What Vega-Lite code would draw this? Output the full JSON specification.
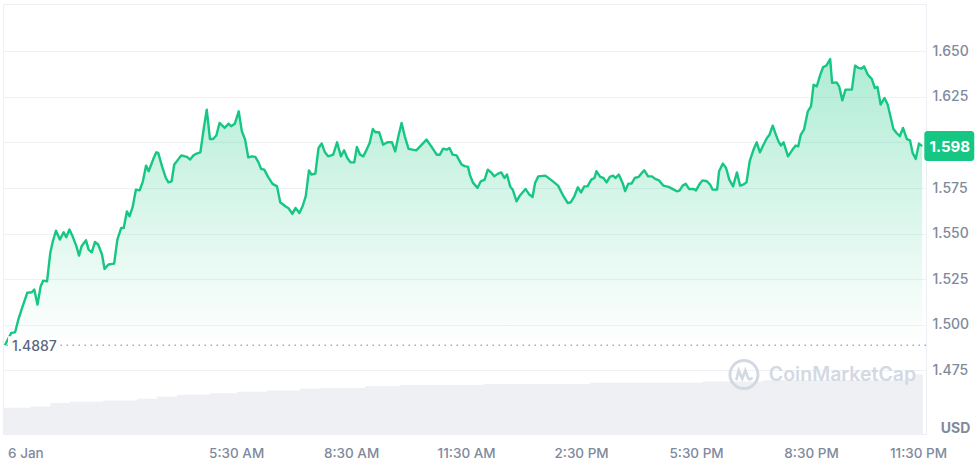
{
  "$schema": "https://vega.github.io/schema/vega-lite/v6.json",
  "width": 923,
  "height": 430,
  "autosize": "none",
  "padding": {"left": 3, "top": 4, "right": 54, "bottom": 33},
  "background": "white",
  "config": {
    "view": {"stroke": "#eceff3", "strokeWidth": 1},
    "font": "Inter"
  },
  "datasets": {
    "price": [
      {"t": "2024-01-05T23:28:00Z", "p": 1.4887},
      {"t": "2024-01-05T23:38:00Z", "p": 1.4955},
      {"t": "2024-01-05T23:44:00Z", "p": 1.4958},
      {"t": "2024-01-05T23:49:00Z", "p": 1.5028},
      {"t": "2024-01-05T23:54:00Z", "p": 1.5083},
      {"t": "2024-01-06T00:03:00Z", "p": 1.5175},
      {"t": "2024-01-06T00:10:00Z", "p": 1.5178},
      {"t": "2024-01-06T00:14:00Z", "p": 1.5193},
      {"t": "2024-01-06T00:19:00Z", "p": 1.5110},
      {"t": "2024-01-06T00:24:00Z", "p": 1.5211},
      {"t": "2024-01-06T00:28:00Z", "p": 1.5242},
      {"t": "2024-01-06T00:34:00Z", "p": 1.5238},
      {"t": "2024-01-06T00:39:00Z", "p": 1.5394},
      {"t": "2024-01-06T00:43:00Z", "p": 1.5458},
      {"t": "2024-01-06T00:48:00Z", "p": 1.5516},
      {"t": "2024-01-06T00:54:00Z", "p": 1.5467},
      {"t": "2024-01-06T01:00:00Z", "p": 1.5507},
      {"t": "2024-01-06T01:04:00Z", "p": 1.5480},
      {"t": "2024-01-06T01:09:00Z", "p": 1.5522},
      {"t": "2024-01-06T01:14:00Z", "p": 1.5485},
      {"t": "2024-01-06T01:20:00Z", "p": 1.5430},
      {"t": "2024-01-06T01:24:00Z", "p": 1.5379},
      {"t": "2024-01-06T01:28:00Z", "p": 1.5430},
      {"t": "2024-01-06T01:35:00Z", "p": 1.5463},
      {"t": "2024-01-06T01:39:00Z", "p": 1.5412},
      {"t": "2024-01-06T01:44:00Z", "p": 1.5397},
      {"t": "2024-01-06T01:49:00Z", "p": 1.5454},
      {"t": "2024-01-06T01:54:00Z", "p": 1.5440},
      {"t": "2024-01-06T02:00:00Z", "p": 1.5385},
      {"t": "2024-01-06T02:04:00Z", "p": 1.5306},
      {"t": "2024-01-06T02:10:00Z", "p": 1.5330},
      {"t": "2024-01-06T02:19:00Z", "p": 1.5335},
      {"t": "2024-01-06T02:24:00Z", "p": 1.5467},
      {"t": "2024-01-06T02:30:00Z", "p": 1.5531},
      {"t": "2024-01-06T02:34:00Z", "p": 1.5531},
      {"t": "2024-01-06T02:39:00Z", "p": 1.5622},
      {"t": "2024-01-06T02:43:00Z", "p": 1.5595},
      {"t": "2024-01-06T02:48:00Z", "p": 1.5646},
      {"t": "2024-01-06T02:53:00Z", "p": 1.5741},
      {"t": "2024-01-06T02:59:00Z", "p": 1.5737},
      {"t": "2024-01-06T03:04:00Z", "p": 1.5787},
      {"t": "2024-01-06T03:09:00Z", "p": 1.5873},
      {"t": "2024-01-06T03:13:00Z", "p": 1.5842},
      {"t": "2024-01-06T03:20:00Z", "p": 1.5906},
      {"t": "2024-01-06T03:25:00Z", "p": 1.5946},
      {"t": "2024-01-06T03:28:00Z", "p": 1.5943},
      {"t": "2024-01-06T03:34:00Z", "p": 1.5869},
      {"t": "2024-01-06T03:40:00Z", "p": 1.5805},
      {"t": "2024-01-06T03:44:00Z", "p": 1.5781},
      {"t": "2024-01-06T03:49:00Z", "p": 1.5787},
      {"t": "2024-01-06T03:53:00Z", "p": 1.5878},
      {"t": "2024-01-06T03:59:00Z", "p": 1.5906},
      {"t": "2024-01-06T04:04:00Z", "p": 1.5929},
      {"t": "2024-01-06T04:13:00Z", "p": 1.5921},
      {"t": "2024-01-06T04:18:00Z", "p": 1.5906},
      {"t": "2024-01-06T04:23:00Z", "p": 1.5928},
      {"t": "2024-01-06T04:28:00Z", "p": 1.5939},
      {"t": "2024-01-06T04:34:00Z", "p": 1.5946},
      {"t": "2024-01-06T04:39:00Z", "p": 1.6070},
      {"t": "2024-01-06T04:44:00Z", "p": 1.6180},
      {"t": "2024-01-06T04:49:00Z", "p": 1.6019},
      {"t": "2024-01-06T04:54:00Z", "p": 1.6019},
      {"t": "2024-01-06T04:59:00Z", "p": 1.6038},
      {"t": "2024-01-06T05:04:00Z", "p": 1.6107},
      {"t": "2024-01-06T05:12:00Z", "p": 1.6080},
      {"t": "2024-01-06T05:18:00Z", "p": 1.6103},
      {"t": "2024-01-06T05:22:00Z", "p": 1.6089},
      {"t": "2024-01-06T05:28:00Z", "p": 1.6103},
      {"t": "2024-01-06T05:34:00Z", "p": 1.6171},
      {"t": "2024-01-06T05:39:00Z", "p": 1.6061},
      {"t": "2024-01-06T05:44:00Z", "p": 1.6016},
      {"t": "2024-01-06T05:49:00Z", "p": 1.5918},
      {"t": "2024-01-06T05:55:00Z", "p": 1.5924},
      {"t": "2024-01-06T06:00:00Z", "p": 1.5921},
      {"t": "2024-01-06T06:05:00Z", "p": 1.5891},
      {"t": "2024-01-06T06:09:00Z", "p": 1.5855},
      {"t": "2024-01-06T06:14:00Z", "p": 1.5851},
      {"t": "2024-01-06T06:20:00Z", "p": 1.5811},
      {"t": "2024-01-06T06:27:00Z", "p": 1.5773},
      {"t": "2024-01-06T06:34:00Z", "p": 1.5759},
      {"t": "2024-01-06T06:39:00Z", "p": 1.5672},
      {"t": "2024-01-06T06:47:00Z", "p": 1.5650},
      {"t": "2024-01-06T06:52:00Z", "p": 1.5639},
      {"t": "2024-01-06T06:58:00Z", "p": 1.5608},
      {"t": "2024-01-06T07:03:00Z", "p": 1.5641},
      {"t": "2024-01-06T07:09:00Z", "p": 1.5613},
      {"t": "2024-01-06T07:14:00Z", "p": 1.5650},
      {"t": "2024-01-06T07:19:00Z", "p": 1.5705},
      {"t": "2024-01-06T07:24:00Z", "p": 1.5847},
      {"t": "2024-01-06T07:28:00Z", "p": 1.5824},
      {"t": "2024-01-06T07:34:00Z", "p": 1.5829},
      {"t": "2024-01-06T07:39:00Z", "p": 1.5970},
      {"t": "2024-01-06T07:44:00Z", "p": 1.5994},
      {"t": "2024-01-06T07:49:00Z", "p": 1.5946},
      {"t": "2024-01-06T07:54:00Z", "p": 1.5924},
      {"t": "2024-01-06T08:02:00Z", "p": 1.5933},
      {"t": "2024-01-06T08:08:00Z", "p": 1.6001},
      {"t": "2024-01-06T08:14:00Z", "p": 1.5924},
      {"t": "2024-01-06T08:19:00Z", "p": 1.5957},
      {"t": "2024-01-06T08:24:00Z", "p": 1.5915},
      {"t": "2024-01-06T08:29:00Z", "p": 1.5891},
      {"t": "2024-01-06T08:35:00Z", "p": 1.5891},
      {"t": "2024-01-06T08:39:00Z", "p": 1.5976},
      {"t": "2024-01-06T08:44:00Z", "p": 1.5933},
      {"t": "2024-01-06T08:49:00Z", "p": 1.5924},
      {"t": "2024-01-06T08:53:00Z", "p": 1.5951},
      {"t": "2024-01-06T08:59:00Z", "p": 1.5997},
      {"t": "2024-01-06T09:04:00Z", "p": 1.6074},
      {"t": "2024-01-06T09:08:00Z", "p": 1.6056},
      {"t": "2024-01-06T09:14:00Z", "p": 1.6056},
      {"t": "2024-01-06T09:20:00Z", "p": 1.5988},
      {"t": "2024-01-06T09:27:00Z", "p": 1.6001},
      {"t": "2024-01-06T09:34:00Z", "p": 1.6001},
      {"t": "2024-01-06T09:39:00Z", "p": 1.5951},
      {"t": "2024-01-06T09:44:00Z", "p": 1.6034},
      {"t": "2024-01-06T09:49:00Z", "p": 1.6107},
      {"t": "2024-01-06T09:54:00Z", "p": 1.6034},
      {"t": "2024-01-06T10:00:00Z", "p": 1.5965},
      {"t": "2024-01-06T10:12:00Z", "p": 1.5957},
      {"t": "2024-01-06T10:18:00Z", "p": 1.5979},
      {"t": "2024-01-06T10:28:00Z", "p": 1.6016},
      {"t": "2024-01-06T10:36:00Z", "p": 1.5976},
      {"t": "2024-01-06T10:44:00Z", "p": 1.5933},
      {"t": "2024-01-06T10:49:00Z", "p": 1.5933},
      {"t": "2024-01-06T10:54:00Z", "p": 1.5966},
      {"t": "2024-01-06T11:00:00Z", "p": 1.5961},
      {"t": "2024-01-06T11:04:00Z", "p": 1.5970},
      {"t": "2024-01-06T11:09:00Z", "p": 1.5933},
      {"t": "2024-01-06T11:15:00Z", "p": 1.5929},
      {"t": "2024-01-06T11:23:00Z", "p": 1.5878},
      {"t": "2024-01-06T11:28:00Z", "p": 1.5870},
      {"t": "2024-01-06T11:33:00Z", "p": 1.5866},
      {"t": "2024-01-06T11:36:00Z", "p": 1.5821},
      {"t": "2024-01-06T11:41:00Z", "p": 1.5778},
      {"t": "2024-01-06T11:48:00Z", "p": 1.5751},
      {"t": "2024-01-06T11:53:00Z", "p": 1.5787},
      {"t": "2024-01-06T11:59:00Z", "p": 1.5796},
      {"t": "2024-01-06T12:04:00Z", "p": 1.5851},
      {"t": "2024-01-06T12:09:00Z", "p": 1.5836},
      {"t": "2024-01-06T12:14:00Z", "p": 1.5814},
      {"t": "2024-01-06T12:20:00Z", "p": 1.5829},
      {"t": "2024-01-06T12:25:00Z", "p": 1.5836},
      {"t": "2024-01-06T12:30:00Z", "p": 1.5805},
      {"t": "2024-01-06T12:34:00Z", "p": 1.5824},
      {"t": "2024-01-06T12:39:00Z", "p": 1.5759},
      {"t": "2024-01-06T12:43:00Z", "p": 1.5741},
      {"t": "2024-01-06T12:49:00Z", "p": 1.5677},
      {"t": "2024-01-06T12:54:00Z", "p": 1.5708},
      {"t": "2024-01-06T13:03:00Z", "p": 1.5745},
      {"t": "2024-01-06T13:09:00Z", "p": 1.5714},
      {"t": "2024-01-06T13:14:00Z", "p": 1.5701},
      {"t": "2024-01-06T13:18:00Z", "p": 1.5778},
      {"t": "2024-01-06T13:23:00Z", "p": 1.5814},
      {"t": "2024-01-06T13:34:00Z", "p": 1.5818},
      {"t": "2024-01-06T13:44:00Z", "p": 1.5792},
      {"t": "2024-01-06T13:54:00Z", "p": 1.5763},
      {"t": "2024-01-06T14:02:00Z", "p": 1.5708},
      {"t": "2024-01-06T14:09:00Z", "p": 1.5668},
      {"t": "2024-01-06T14:14:00Z", "p": 1.5672},
      {"t": "2024-01-06T14:19:00Z", "p": 1.5701},
      {"t": "2024-01-06T14:25:00Z", "p": 1.5754},
      {"t": "2024-01-06T14:30:00Z", "p": 1.5726},
      {"t": "2024-01-06T14:35:00Z", "p": 1.5759},
      {"t": "2024-01-06T14:40:00Z", "p": 1.5759},
      {"t": "2024-01-06T14:46:00Z", "p": 1.5796},
      {"t": "2024-01-06T14:51:00Z", "p": 1.5805},
      {"t": "2024-01-06T14:54:00Z", "p": 1.5842},
      {"t": "2024-01-06T15:00:00Z", "p": 1.5811},
      {"t": "2024-01-06T15:05:00Z", "p": 1.5805},
      {"t": "2024-01-06T15:10:00Z", "p": 1.5781},
      {"t": "2024-01-06T15:15:00Z", "p": 1.5811},
      {"t": "2024-01-06T15:20:00Z", "p": 1.5818},
      {"t": "2024-01-06T15:24:00Z", "p": 1.5805},
      {"t": "2024-01-06T15:29:00Z", "p": 1.5824},
      {"t": "2024-01-06T15:35:00Z", "p": 1.5778},
      {"t": "2024-01-06T15:39:00Z", "p": 1.5733},
      {"t": "2024-01-06T15:44:00Z", "p": 1.5774},
      {"t": "2024-01-06T15:49:00Z", "p": 1.5774},
      {"t": "2024-01-06T15:54:00Z", "p": 1.5805},
      {"t": "2024-01-06T16:00:00Z", "p": 1.5811},
      {"t": "2024-01-06T16:05:00Z", "p": 1.5833},
      {"t": "2024-01-06T16:09:00Z", "p": 1.5847},
      {"t": "2024-01-06T16:15:00Z", "p": 1.5814},
      {"t": "2024-01-06T16:21:00Z", "p": 1.5814},
      {"t": "2024-01-06T16:26:00Z", "p": 1.5800},
      {"t": "2024-01-06T16:32:00Z", "p": 1.5792},
      {"t": "2024-01-06T16:39:00Z", "p": 1.5763},
      {"t": "2024-01-06T16:47:00Z", "p": 1.5756},
      {"t": "2024-01-06T16:53:00Z", "p": 1.5745},
      {"t": "2024-01-06T17:00:00Z", "p": 1.5732},
      {"t": "2024-01-06T17:04:00Z", "p": 1.5736},
      {"t": "2024-01-06T17:09:00Z", "p": 1.5763},
      {"t": "2024-01-06T17:14:00Z", "p": 1.5773},
      {"t": "2024-01-06T17:19:00Z", "p": 1.5745},
      {"t": "2024-01-06T17:26:00Z", "p": 1.5745},
      {"t": "2024-01-06T17:30:00Z", "p": 1.5737},
      {"t": "2024-01-06T17:35:00Z", "p": 1.5769},
      {"t": "2024-01-06T17:40:00Z", "p": 1.5792},
      {"t": "2024-01-06T17:47:00Z", "p": 1.5787},
      {"t": "2024-01-06T17:52:00Z", "p": 1.5769},
      {"t": "2024-01-06T17:56:00Z", "p": 1.5741},
      {"t": "2024-01-06T18:03:00Z", "p": 1.5741},
      {"t": "2024-01-06T18:06:00Z", "p": 1.5842},
      {"t": "2024-01-06T18:12:00Z", "p": 1.5884},
      {"t": "2024-01-06T18:17:00Z", "p": 1.5860},
      {"t": "2024-01-06T18:22:00Z", "p": 1.5796},
      {"t": "2024-01-06T18:28:00Z", "p": 1.5759},
      {"t": "2024-01-06T18:34:00Z", "p": 1.5836},
      {"t": "2024-01-06T18:39:00Z", "p": 1.5763},
      {"t": "2024-01-06T18:44:00Z", "p": 1.5769},
      {"t": "2024-01-06T18:49:00Z", "p": 1.5781},
      {"t": "2024-01-06T18:54:00Z", "p": 1.5897},
      {"t": "2024-01-06T19:00:00Z", "p": 1.5961},
      {"t": "2024-01-06T19:05:00Z", "p": 1.6001},
      {"t": "2024-01-06T19:10:00Z", "p": 1.5946},
      {"t": "2024-01-06T19:15:00Z", "p": 1.5983},
      {"t": "2024-01-06T19:21:00Z", "p": 1.6025},
      {"t": "2024-01-06T19:25:00Z", "p": 1.6043},
      {"t": "2024-01-06T19:30:00Z", "p": 1.6092},
      {"t": "2024-01-06T19:35:00Z", "p": 1.6043},
      {"t": "2024-01-06T19:39:00Z", "p": 1.6006},
      {"t": "2024-01-06T19:43:00Z", "p": 1.5983},
      {"t": "2024-01-06T19:47:00Z", "p": 1.6001},
      {"t": "2024-01-06T19:54:00Z", "p": 1.5924},
      {"t": "2024-01-06T20:01:00Z", "p": 1.5961},
      {"t": "2024-01-06T20:06:00Z", "p": 1.5983},
      {"t": "2024-01-06T20:10:00Z", "p": 1.5979},
      {"t": "2024-01-06T20:14:00Z", "p": 1.6043},
      {"t": "2024-01-06T20:19:00Z", "p": 1.6070},
      {"t": "2024-01-06T20:25:00Z", "p": 1.6171},
      {"t": "2024-01-06T20:30:00Z", "p": 1.6198},
      {"t": "2024-01-06T20:34:00Z", "p": 1.6317},
      {"t": "2024-01-06T20:39:00Z", "p": 1.6308},
      {"t": "2024-01-06T20:44:00Z", "p": 1.6367},
      {"t": "2024-01-06T20:49:00Z", "p": 1.6414},
      {"t": "2024-01-06T20:54:00Z", "p": 1.6422},
      {"t": "2024-01-06T21:00:00Z", "p": 1.6458},
      {"t": "2024-01-06T21:03:00Z", "p": 1.6327},
      {"t": "2024-01-06T21:10:00Z", "p": 1.6330},
      {"t": "2024-01-06T21:14:00Z", "p": 1.6308},
      {"t": "2024-01-06T21:19:00Z", "p": 1.6231},
      {"t": "2024-01-06T21:24:00Z", "p": 1.6290},
      {"t": "2024-01-06T21:34:00Z", "p": 1.6290},
      {"t": "2024-01-06T21:39:00Z", "p": 1.6422},
      {"t": "2024-01-06T21:44:00Z", "p": 1.6409},
      {"t": "2024-01-06T21:49:00Z", "p": 1.6405},
      {"t": "2024-01-06T21:53:00Z", "p": 1.6418},
      {"t": "2024-01-06T21:59:00Z", "p": 1.6372},
      {"t": "2024-01-06T22:05:00Z", "p": 1.6349},
      {"t": "2024-01-06T22:10:00Z", "p": 1.6299},
      {"t": "2024-01-06T22:14:00Z", "p": 1.6305},
      {"t": "2024-01-06T22:19:00Z", "p": 1.6208},
      {"t": "2024-01-06T22:25:00Z", "p": 1.6244},
      {"t": "2024-01-06T22:30:00Z", "p": 1.6208},
      {"t": "2024-01-06T22:39:00Z", "p": 1.6074},
      {"t": "2024-01-06T22:44:00Z", "p": 1.6052},
      {"t": "2024-01-06T22:49:00Z", "p": 1.6034},
      {"t": "2024-01-06T22:54:00Z", "p": 1.6080},
      {"t": "2024-01-06T23:00:00Z", "p": 1.6019},
      {"t": "2024-01-06T23:05:00Z", "p": 1.6012},
      {"t": "2024-01-06T23:09:00Z", "p": 1.5943},
      {"t": "2024-01-06T23:14:00Z", "p": 1.5910},
      {"t": "2024-01-06T23:19:00Z", "p": 1.5994},
      {"t": "2024-01-06T23:24:00Z", "p": 1.5980}
    ],
    "volume": [
      {"t": "2024-01-05T23:25:00Z", "v": 61},
      {"t": "2024-01-06T00:08:00Z", "v": 64},
      {"t": "2024-01-06T00:39:00Z", "v": 72},
      {"t": "2024-01-06T01:10:00Z", "v": 75},
      {"t": "2024-01-06T02:02:00Z", "v": 78},
      {"t": "2024-01-06T02:55:00Z", "v": 82},
      {"t": "2024-01-06T03:26:00Z", "v": 87},
      {"t": "2024-01-06T03:58:00Z", "v": 91},
      {"t": "2024-01-06T04:49:00Z", "v": 95},
      {"t": "2024-01-06T05:31:00Z", "v": 98},
      {"t": "2024-01-06T06:18:00Z", "v": 101},
      {"t": "2024-01-06T07:10:00Z", "v": 106},
      {"t": "2024-01-06T07:41:00Z", "v": 107},
      {"t": "2024-01-06T08:52:00Z", "v": 111},
      {"t": "2024-01-06T09:47:00Z", "v": 114},
      {"t": "2024-01-06T11:57:00Z", "v": 116},
      {"t": "2024-01-06T14:44:00Z", "v": 119},
      {"t": "2024-01-06T17:41:00Z", "v": 122},
      {"t": "2024-01-06T19:15:00Z", "v": 125},
      {"t": "2024-01-06T23:10:00Z", "v": 139},
      {"t": "2024-01-06T23:25:00Z", "v": 139}
    ]
  },
  "layer": [
    {
      "data": {"name": "volume"},
      "mark": {"type": "area", "interpolate": "step-after", "color": "#eef0f4"},
      "encoding": {
        "x": {
          "field": "t", "type": "temporal", "title": null,
          "scale": {"type": "utc", "domain": [
            {"year": 2024, "month": 1, "date": 5, "hours": 23, "minutes": 25, "utc": true},
            {"year": 2024, "month": 1, "date": 6, "hours": 23, "minutes": 30, "utc": true}
          ]},
          "axis": {
            "values": [
              {"year": 2024, "month": 1, "date": 6, "hours": 0, "minutes": 0, "utc": true},
              {"year": 2024, "month": 1, "date": 6, "hours": 5, "minutes": 30, "utc": true},
              {"year": 2024, "month": 1, "date": 6, "hours": 8, "minutes": 30, "utc": true},
              {"year": 2024, "month": 1, "date": 6, "hours": 11, "minutes": 30, "utc": true},
              {"year": 2024, "month": 1, "date": 6, "hours": 14, "minutes": 30, "utc": true},
              {"year": 2024, "month": 1, "date": 6, "hours": 17, "minutes": 30, "utc": true},
              {"year": 2024, "month": 1, "date": 6, "hours": 20, "minutes": 30, "utc": true},
              {"year": 2024, "month": 1, "date": 6, "hours": 23, "minutes": 30, "utc": true}
            ],
            "labelExpr": "utchours(datum.value) == 0 && utcminutes(datum.value) == 0 ? utcFormat(datum.value, '%-d %b') : utcFormat(datum.value, '%-I:%M %p')",
            "ticks": false, "tickSize": 0, "domain": false, "grid": false,
            "labelPadding": 12, "labelFontSize": 13.5, "labelColor": "#808a9d",
            "labelFont": "Inter", "labelFontWeight": 500,
            "labelOverlap": false, "labelFlush": false, "labelBound": false,
            "labelOffset": {"condition": {"test": "utchours(datum.value) == 23", "value": -8}, "value": 0}
          }
        },
        "y": {
          "field": "v", "type": "quantitative",
          "scale": {"domain": [0, 1000], "nice": false},
          "axis": null
        }
      }
    },
    {
      "layer": [
        {
          "data": {"name": "price"},
          "mark": {
            "type": "area",
            "fill": {
              "x1": 0, "y1": 0, "x2": 0, "y2": 1, "gradient": "linear",
              "stops": [
                {"offset": 0, "color": "rgba(22,199,132,0.34)"},
                {"offset": 1, "color": "rgba(22,199,132,0.0)"}
              ]
            }
          },
          "encoding": {
            "x": {"field": "t", "type": "temporal", "title": null},
            "y": {
              "field": "p", "type": "quantitative",
              "scale": {"domain": [1.44, 1.676], "nice": false, "zero": false},
              "axis": {
                "orient": "right",
                "values": [1.475, 1.5, 1.525, 1.55, 1.575, 1.6, 1.625, 1.65],
                "labelExpr": "abs(datum.value - 1.6) < 0.001 ? '' : format(datum.value, '.3f')",
                "ticks": false, "tickSize": 0, "domain": false,
                "grid": true, "gridColor": "#eff2f5", "gridWidth": 1,
                "labelPadding": 6, "labelFontSize": 14, "labelFont": "Inter",
                "labelFontWeight": 500, "labelColor": "#808a9d",
                "title": "USD", "titleAngle": 0, "titleX": 29, "titleY": 424.5,
                "titleAlign": "center", "titleBaseline": "middle",
                "titleFont": "Inter", "titleFontSize": 14, "titleFontWeight": "bold",
                "titleColor": "#808a9d"
              }
            },
            "y2": {"datum": 1.4887}
          }
        },
        {
          "data": {"values": [{}]},
          "mark": {"type": "rule", "color": "#a3abbb", "strokeDash": [1.5, 4.5], "strokeWidth": 1.3},
          "encoding": {"y": {"datum": 1.4887}}
        },
        {
          "data": {"name": "price"},
          "mark": {"type": "line", "color": "#16c784", "strokeWidth": 2.4, "interpolate": "linear", "strokeJoin": "round"},
          "encoding": {
            "x": {"field": "t", "type": "temporal", "title": null},
            "y": {"field": "p", "type": "quantitative"}
          }
        },
        {
          "data": {"values": [{}]},
          "mark": {
            "type": "point", "filled": true, "fill": "white", "opacity": 1, "size": 400,
            "shape": "M0.5,-0.9H5.6V0.9H0.5Z"
          },
          "encoding": {
            "x": {"datum": {"year": 2024, "month": 1, "date": 5, "hours": 23, "minutes": 25, "utc": true}, "type": "temporal"},
            "y": {"datum": 1.4887}
          }
        },
        {
          "data": {"values": [{}]},
          "mark": {
            "type": "text", "align": "left", "baseline": "middle", "dx": 9, "dy": 2,
            "font": "Inter", "fontSize": 14, "fontWeight": 500, "color": "#58667e",
            "text": "1.4887"
          },
          "encoding": {
            "x": {"datum": {"year": 2024, "month": 1, "date": 5, "hours": 23, "minutes": 25, "utc": true}, "type": "temporal"},
            "y": {"datum": 1.4887}
          }
        },
        {
          "data": {"values": [{}]},
          "mark": {
            "type": "point", "filled": false, "stroke": "#d3d9e3", "strokeWidth": 3,
            "opacity": 1, "size": 784, "shape": "circle"
          },
          "encoding": {
            "x": {"datum": {"year": 2024, "month": 1, "date": 6, "hours": 18, "minutes": 45, "utc": true}, "type": "temporal"},
            "y": {"datum": 1.4726}
          }
        },
        {
          "data": {"values": [{}]},
          "mark": {
            "type": "point", "filled": false, "stroke": "#d3d9e3", "strokeWidth": 2.6,
            "opacity": 1, "size": 784,
            "shape": "M-0.55,0.4L-0.38,-0.3L-0.12,0.3L0.1,-0.3L0.3,0.25Q0.45,0.45 0.6,0.2"
          },
          "encoding": {
            "x": {"datum": {"year": 2024, "month": 1, "date": 6, "hours": 18, "minutes": 45, "utc": true}, "type": "temporal"},
            "y": {"datum": 1.4726}
          }
        },
        {
          "data": {"values": [{}]},
          "mark": {
            "type": "text", "align": "left", "baseline": "middle",
            "font": "Inter", "fontSize": 19.5, "fontWeight": 600, "color": "#d3d9e3",
            "text": "CoinMarketCap"
          },
          "encoding": {
            "x": {"datum": {"year": 2024, "month": 1, "date": 6, "hours": 19, "minutes": 24, "utc": true}, "type": "temporal"},
            "y": {"datum": 1.4726}
          }
        },
        {
          "data": {"values": [{}]},
          "mark": {
            "type": "point", "filled": true, "fill": "#16c784", "opacity": 1, "size": 900,
            "shape": "M0.3,-1H3.23A0.2,0.2 0 0 1 3.43,-0.8V0.8A0.2,0.2 0 0 1 3.23,1H0.3A0.2,0.2 0 0 1 0.1,0.8V-0.8A0.2,0.2 0 0 1 0.3,-1Z"
          },
          "encoding": {
            "x": {"datum": {"year": 2024, "month": 1, "date": 6, "hours": 23, "minutes": 25, "utc": true}, "type": "temporal"},
            "y": {"datum": 1.598}
          }
        },
        {
          "data": {"values": [{}]},
          "mark": {
            "type": "text", "align": "center", "baseline": "middle", "dx": 27, "dy": 0.5,
            "font": "Inter", "fontSize": 15, "fontWeight": "bold", "color": "white",
            "text": "1.598"
          },
          "encoding": {
            "x": {"datum": {"year": 2024, "month": 1, "date": 6, "hours": 23, "minutes": 25, "utc": true}, "type": "temporal"},
            "y": {"datum": 1.598}
          }
        }
      ]
    }
  ],
  "resolve": {"scale": {"y": "independent"}, "axis": {"y": "independent"}}
}
